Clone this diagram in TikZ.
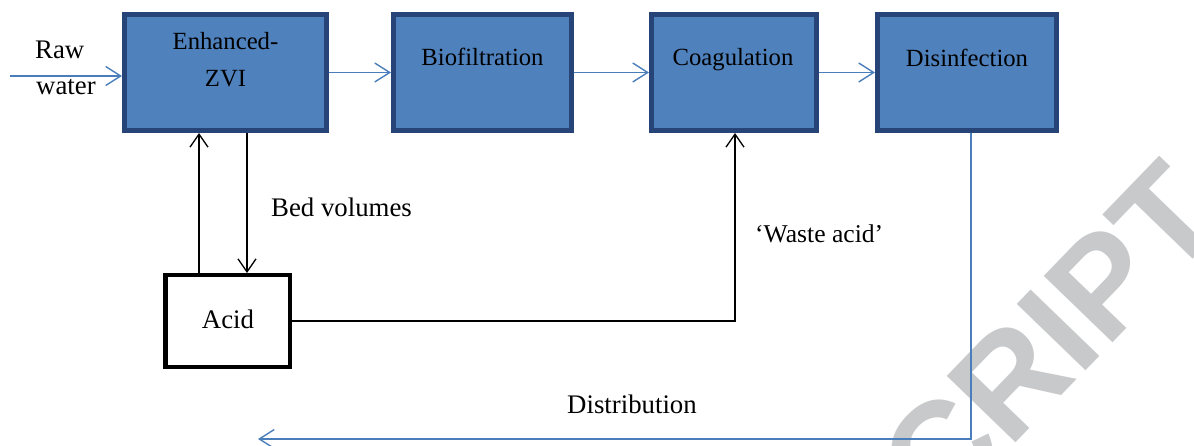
\documentclass[tikz,border=0pt]{standalone}
\usepackage{fontspec}
\setmainfont{Liberation Serif}
\newfontfamily\wmfont{Liberation Sans}
\usetikzlibrary{arrows.meta}
\definecolor{boxfill}{HTML}{4F81BD}
\definecolor{boxedge}{HTML}{264478}
\definecolor{flowblue}{HTML}{4A7EBB}
\definecolor{wmgray}{HTML}{C8C9CA}
\tikzset{
  stage/.style={draw=boxedge, fill=boxfill, line width=5pt, minimum height=116pt, inner sep=0pt},
  acidbox/.style={draw=black, fill=white, line width=4.5pt, minimum width=124.5pt, minimum height=91.5pt, inner sep=0pt},
  inlabel/.style={font=\fontsize{24.7}{30}\selectfont, anchor=base, inner sep=0pt},
  outlabel/.style={font=\fontsize{26.8}{32}\selectfont, anchor=base, inner sep=0pt},
  blueflow/.style={draw=flowblue, line width=1.4pt, -{Straight Barb[length=15pt,width=19pt,line width=1.4pt]}},
  blueline/.style={draw=flowblue, line width=1.4pt},
  blackflow/.style={draw=black, line width=1.3pt, -{Straight Barb[length=13pt,width=18pt,line width=1.3pt]}},
  blackline/.style={draw=black, line width=1.3pt}
}
\begin{document}
\begin{tikzpicture}[x=1pt,y=-1pt]
\useasboundingbox (0,0) rectangle (1194,446);
% watermark
\begin{scope}
  \clip (0,0) rectangle (1194,446);
  \node[rotate=46, anchor=base west, inner sep=0pt, text=wmgray,
        font=\wmfont\bfseries\fontsize{139}{139}\selectfont] (wm) at (940,522) {CRIPT};
\end{scope}
% stages
\node[stage, minimum width=202pt] (zvi)  at (225.5,72.5) {};
\node[stage, minimum width=178pt] (bio)  at (482.5,72.5) {};
\node[stage, minimum width=165pt] (coag) at (734,72.5) {};
\node[stage, minimum width=179pt] (dis)  at (967,72.5) {};
\node[acidbox] (acid) at (227.5,321) {};
% labels
\node[inlabel] (tzvi1) at (225.5,50) {Enhanced-};
\node[inlabel] (tzvi2) at (225.5,87) {ZVI};
\node[inlabel] (tbio)  at (482.5,66) {Biofiltration};
\node[inlabel] (tcoag) at (733,66) {Coagulation};
\node[inlabel] (tdis)  at (967,67) {Disinfection};
\node[outlabel] (tacid) at (228,329) {Acid};
\node[outlabel, anchor=base west] (traw)   at (35,59) {Raw};
\node[outlabel, anchor=base west] (twater) at (36,95) {water};
\node[outlabel, anchor=base west] (tbed)   at (271,217) {Bed volumes};
\node[outlabel, anchor=base west, font=\fontsize{25.6}{30}\selectfont] (twaste) at (755,243) {‘Waste acid’};
\node[outlabel] (tdist) at (632,413) {Distribution};
% connectors
\coordinate (rawin) at (10,76);
\coordinate (upx) at (199,200);
\coordinate (downx) at (247,200);
\coordinate (distend) at (258,439);
\coordinate (disx) at (971,200);
\draw[blueflow] (rawin) -- (rawin -| zvi.west);
\draw[blueflow] (zvi.east) -- (bio.west);
\draw[blueflow] (bio.east) -- (coag.west);
\draw[blueflow] (coag.east) -- (dis.west);
\draw[blackflow] (upx |- acid.north) -- (upx |- zvi.south);
\draw[blackflow] (downx |- zvi.south) -- (downx |- acid.north);
\draw[blackflow] (acid.east) -| ([xshift=1pt]coag.south);
\draw[blueflow] (disx |- dis.south) |- (distend);
\end{tikzpicture}
\end{document}
